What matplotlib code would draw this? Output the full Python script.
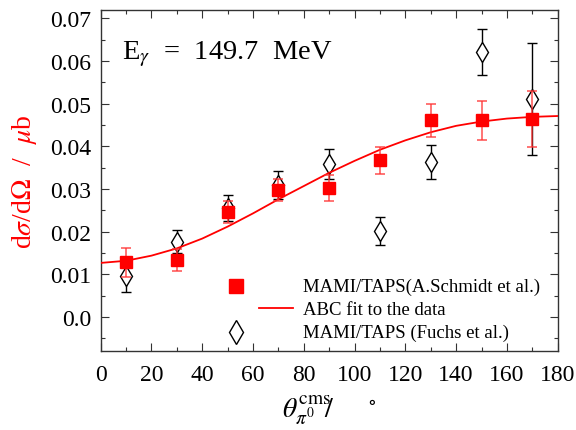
import numpy as np
import matplotlib
matplotlib.use("Agg")
import matplotlib.pyplot as plt
from matplotlib.ticker import MultipleLocator, FixedLocator, FixedFormatter

plt.rcParams['font.family'] = ['Liberation Serif', 'DejaVu Serif']
plt.rcParams['mathtext.fontset'] = 'stix'

# angular distribution at E_gamma = 149.7 MeV
theta = [10, 30, 50, 70, 90, 110, 130, 150, 170]

# MAMI/TAPS (A.Schmidt et al.)
schmidt_val = [0.0128, 0.0134, 0.0247, 0.0298, 0.0302, 0.0367, 0.0461, 0.0461, 0.0464]
schmidt_err = [0.0035, 0.0025, 0.0026, 0.0026, 0.0030, 0.0032, 0.0038, 0.0045, 0.0065]

# MAMI/TAPS (Fuchs et al.)
fuchs_val = [0.0097, 0.0177, 0.0256, 0.0309, 0.0359, 0.0202, 0.0364, 0.0621, 0.0511]
fuchs_err = [0.0037, 0.0027, 0.0031, 0.0033, 0.0035, 0.0033, 0.0040, 0.0053, 0.0131]

# ABC fit curve
fit_theta = [0, 10, 20, 30, 40, 50, 60, 70, 80, 90,
             100, 110, 120, 130, 140, 150, 160, 170, 180]
fit_val = [0.0127, 0.0132, 0.0144, 0.0161, 0.0184, 0.0212, 0.0243, 0.0276, 0.0307, 0.0338,
           0.0366, 0.0392, 0.0414, 0.0433, 0.0448, 0.0458, 0.0465, 0.0469, 0.0471]

y_ticks = [0.0, 0.01, 0.02, 0.03, 0.04, 0.05, 0.06, 0.07]
y_tick_labels = ['0.0', '0.01', '0.02', '0.03', '0.04', '0.05', '0.06', '0.07']

fig = plt.figure(figsize=(5.76, 4.31), dpi=100)
ax = fig.add_axes([0.1748, 0.1826, 0.7934, 0.7926])

ax.errorbar(theta, fuchs_val, yerr=fuchs_err, fmt='d', ms=10, mfc='white', mec='black',
            mew=1.0, ecolor='black', elinewidth=1.0, capsize=3.5, capthick=1.0, zorder=2)
ax.plot(fit_theta, fit_val, color='red', lw=1.3, zorder=3)
ax.errorbar(theta, schmidt_val, yerr=schmidt_err, fmt='s', ms=8.5, color='red',
            ecolor=(1.0, 0.2, 0.2, 0.8), elinewidth=1.2, capsize=3.5, capthick=1.2, zorder=4)

ax.set_xlim(0, 180)
ax.set_ylim(-0.008, 0.072)
ax.xaxis.set_major_locator(MultipleLocator(20))
ax.xaxis.set_minor_locator(MultipleLocator(10))
ax.yaxis.set_major_locator(FixedLocator(y_ticks))
ax.yaxis.set_major_formatter(FixedFormatter(y_tick_labels))
ax.yaxis.set_minor_locator(MultipleLocator(0.005))
ax.tick_params(which='both', direction='in', top=True, right=True, labelsize=17,
               color='#333333')
ax.tick_params(axis='x', pad=9)
ax.tick_params(axis='y', pad=7)
ax.tick_params(which='major', length=6, width=0.8)
ax.tick_params(which='minor', length=3, width=0.8)
for sp in ax.spines.values():
    sp.set_color('#333333')
    sp.set_linewidth(1.0)

ax.set_xlabel(r'$\theta_{\pi^0}^{\rm cms}\!\!/\ \ \ \ \ ^\circ$', fontsize=20, labelpad=6)
ax.set_ylabel(r'd$\sigma$/d$\Omega$  /  $\mu$b', fontsize=20, color='red', labelpad=8)

ax.text(0.047, 0.8586, r'E$_\gamma$  =  149.7  MeV', transform=ax.transAxes,
        fontsize=20.5, va='baseline', ha='left')

# legend drawn by hand
tr = ax.transAxes
ax.plot([0.2954], [0.1903], 's', ms=10, color='red', transform=tr, clip_on=False)
ax.plot([0.3464, 0.4208], [0.1253, 0.1253], color='red', lw=1.3, transform=tr)
ax.plot([0.2954], [0.0574], 'd', ms=12, mfc='white', mec='black', mew=1.0, transform=tr)
ax.text(0.4427, 0.1903, 'MAMI/TAPS(A.Schmidt et al.)', transform=tr, fontsize=13.5, va='center')
ax.text(0.4427, 0.1238, 'ABC fit to the data', transform=tr, fontsize=13.5, va='center')
ax.text(0.4427, 0.0556, 'MAMI/TAPS (Fuchs et al.)', transform=tr, fontsize=13.5, va='center')

plt.savefig('out.png', dpi=100)
